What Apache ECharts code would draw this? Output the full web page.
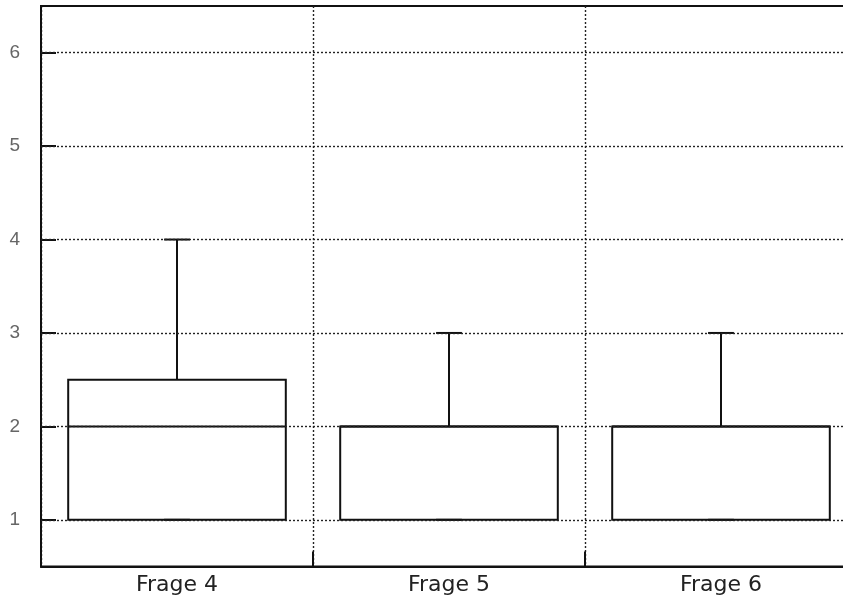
<!DOCTYPE html>
<html>
<head>
<meta charset="utf-8">
<script src="https://cdn.jsdelivr.net/npm/echarts@6/dist/echarts.min.js"></script>
<style>html,body{margin:0;padding:0;background:#fff}#c{width:843px;height:602px}</style>
</head>
<body>
<div id="c"></div>
<script>
const categories = ['Frage 4', 'Frage 5', 'Frage 6'];
const mins    = [1, 1, 1];
const q1s     = [1, 1, 1];
const medians = [2, 2, 2];
const q3s     = [2.5, 2, 2];
const maxs    = [4, 3, 3];
const yTicks  = [1, 2, 3, 4, 5, 6];

const data = categories.map((c, i) => [i, mins[i], q1s[i], medians[i], q3s[i], maxs[i]]);
const ink = '#111';
const dotted = { color: '#222', width: 1.4, type: [2, 2] };

const chart = echarts.init(document.getElementById('c'), null, { renderer: 'canvas' });
chart.setOption({
  animation: false,
  backgroundColor: '#fff',
  grid: { left: 41, right: -14, top: 6, bottom: 35.5, outerBoundsMode: 'none', containLabel: false, show: true, borderColor: ink, borderWidth: 2, backgroundColor: 'transparent' },
  xAxis: {
    type: 'category', data: categories, boundaryGap: true,
    axisLine: { show: true, lineStyle: { color: ink, width: 2 } },
    axisTick: { show: true, inside: true, length: 15, lineStyle: { color: ink, width: 2 } },
    axisLabel: { color: '#222', fontFamily: 'DejaVu Sans', fontSize: 22, margin: 8 },
    splitLine: { show: true, lineStyle: dotted }
  },
  yAxis: {
    type: 'value', min: 0.5, max: 6.5,
    axisLine: { show: true, lineStyle: { color: ink, width: 2 } },
    axisTick: { show: true, inside: true, length: 15, customValues: yTicks, lineStyle: { color: ink, width: 2 } },
    axisLabel: { color: '#666', fontFamily: 'Liberation Sans', fontSize: 19, margin: 21, customValues: yTicks },
    splitLine: { show: false }
  },
  series: [{
    type: 'custom',
    data: data,
    encode: { x: 0, y: [1, 2, 3, 4, 5] },
    clip: false,
    renderItem: function (params, api) {
      const i = api.value(0);
      const band = api.size([1, 0])[0];
      const bw = band * 0.8, cw = band * 0.095;
      const pMin = api.coord([i, api.value(1)]);
      const pQ1 = api.coord([i, api.value(2)]);
      const pMed = api.coord([i, api.value(3)]);
      const pQ3 = api.coord([i, api.value(4)]);
      const pMax = api.coord([i, api.value(5)]);
      const x = pMed[0];
      const st = { stroke: ink, lineWidth: 2, fill: null };
      const line = (x1, y1, x2, y2) => ({ type: 'line', shape: { x1, y1, x2, y2 }, style: st });
      return {
        type: 'group',
        children: [
          line(x, pQ3[1], x, pMax[1]),
          line(x - cw / 2, pMax[1], x + cw / 2, pMax[1]),
          line(x, pQ1[1], x, pMin[1]),
          line(x - cw / 2, pMin[1], x + cw / 2, pMin[1]),
          { type: 'rect', shape: { x: x - bw / 2, y: pQ3[1], width: bw, height: pQ1[1] - pQ3[1] }, style: { stroke: ink, lineWidth: 2, fill: 'transparent' } },
          line(x - bw / 2, pMed[1], x + bw / 2, pMed[1])
        ]
      };
    },
    markLine: {
      silent: true, symbol: 'none', label: { show: false },
      lineStyle: dotted,
      data: yTicks.map(v => ({ yAxis: v }))
    }
  }]
});
</script>
</body>
</html>
